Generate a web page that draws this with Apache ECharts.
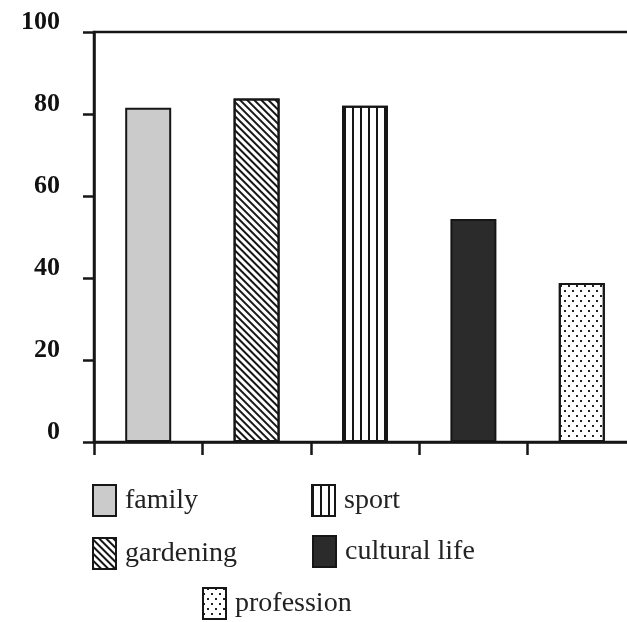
<!DOCTYPE html>
<html>
<head>
<meta charset="utf-8">
<script src="https://cdn.jsdelivr.net/npm/echarts@6/dist/echarts.min.js"></script>
<style>
html,body{margin:0;padding:0;background:#fff;}
#c{width:627px;height:622px;}
</style>
</head>
<body>
<div id="c"></div>
<script>
// Data
const categories = ['family', 'gardening', 'sport', 'cultural life', 'profession'];
const values = [81.5, 83.8, 82, 54.4, 38.8];
const yTicks = [0, 20, 40, 60, 80, 100];

const INK = '#161616';
const styles = {
  'family': { color: '#cbcbcb' },
  'gardening': { color: '#ffffff', decal: { symbol: 'rect', symbolSize: 1, color: INK, dashArrayX: [1, 0], dashArrayY: [1.8, 2.4], rotation: Math.PI / 4 } },
  'sport': { color: '#ffffff', decal: { symbol: 'rect', symbolSize: 1, color: INK, dashArrayX: [1.8, 5.5], dashArrayY: [1, 0], rotation: 0 } },
  'cultural life': { color: '#2b2b2b' },
  'profession': { color: '#ffffff', decal: { symbol: 'rect', symbolSize: 1, color: '#222', dashArrayX: [[2, 6], [0, 4, 2, 2]], dashArrayY: [2, 2.8], rotation: 0 } }
};

const series = categories.map((name, i) => {
  const data = categories.map((c, j) => (j === i ? values[i] : '-'));
  const st = styles[name];
  const itemStyle = { color: st.color, borderColor: INK, borderWidth: 2 };
  if (st.decal) itemStyle.decal = st.decal;
  return {
    name: name,
    type: 'bar',
    stack: 'all',
    barWidth: 46,
    data: data,
    itemStyle: itemStyle,
    emphasis: { disabled: true }
  };
});

const legendPos = {
  'family': { left: 92, top: 484 },
  'sport': { left: 311, top: 484 },
  'gardening': { left: 92, top: 537 },
  'cultural life': { left: 312, top: 535 },
  'profession': { left: 202, top: 587 }
};
const legends = Object.keys(legendPos).map(name => ({
  data: [name],
  left: legendPos[name].left,
  top: legendPos[name].top,
  padding: 0,
  itemWidth: 23,
  itemHeight: 31,
  icon: 'rect',
  selectedMode: false,
  textStyle: { fontFamily: 'Liberation Serif', fontSize: 28, color: '#222', padding: [0, 0, 0, 4] }
}));

const chart = echarts.init(document.getElementById('c'), null, { renderer: 'canvas' });
chart.setOption({
  animation: false,
  backgroundColor: '#fff',
  grid: { left: 94, top: 32, bottom: 180, right: -9, outerBoundsMode: 'none', containLabel: false, show: true, borderColor: INK, borderWidth: 2.5, backgroundColor: 'transparent' },
  legend: legends,
  xAxis: {
    type: 'category',
    data: categories,
    boundaryGap: true,
    axisLine: { lineStyle: { color: INK, width: 2.5 } },
    axisTick: { show: true, inside: false, length: 13, lineStyle: { color: INK, width: 2.5 } },
    axisLabel: { show: false },
    splitLine: { show: false }
  },
  yAxis: {
    type: 'value',
    min: yTicks[0],
    max: yTicks[yTicks.length - 1],
    interval: 20,
    axisLine: { show: true, lineStyle: { color: INK, width: 2.5 } },
    axisTick: { show: true, inside: false, length: 11, lineStyle: { color: INK, width: 2.5 } },
    splitLine: { show: false },
    axisLabel: {
      margin: 34,
      fontFamily: 'Liberation Serif',
      fontWeight: 'bold',
      fontSize: 26,
      color: '#111',
      verticalAlign: 'bottom',
      lineHeight: 19
    }
  },
  series: series
});
</script>
</body>
</html>
